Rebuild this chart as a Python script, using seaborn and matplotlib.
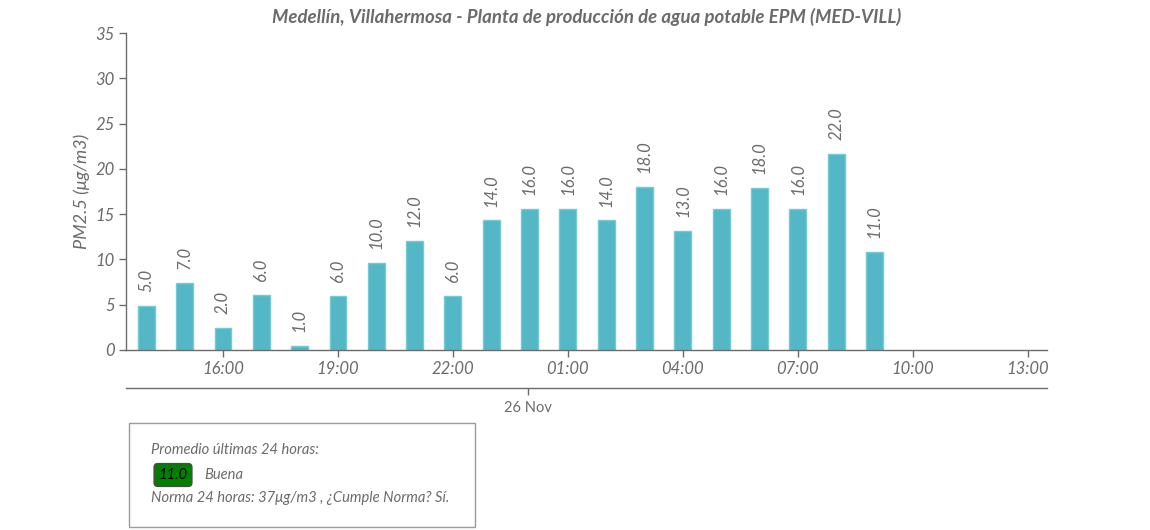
import pandas as pd
import matplotlib.pyplot as plt
import seaborn as sns
from matplotlib.patches import Rectangle

# datos (PM2.5 por hora, 25-26 Nov)
horas = ["14:00", "15:00", "16:00", "17:00", "18:00", "19:00", "20:00",
         "21:00", "22:00", "23:00", "00:00", "01:00", "02:00", "03:00",
         "04:00", "05:00", "06:00", "07:00", "08:00", "09:00"]
pm25 = [4.9, 7.4, 2.4, 6.1, 0.45, 6.0, 9.6, 12.0, 6.0, 14.3,
        15.6, 15.6, 14.3, 18.0, 13.1, 15.6, 17.9, 15.6, 21.6, 10.8]
etiquetas = [5.0, 7.0, 2.0, 6.0, 1.0, 6.0, 10.0, 12.0, 6.0, 14.0,
             16.0, 16.0, 14.0, 18.0, 13.0, 16.0, 18.0, 16.0, 22.0, 11.0]
ticks_horas = ["16:00", "19:00", "22:00", "01:00", "04:00", "07:00", "10:00", "13:00"]
promedio = 11.0

sns.set_style("ticks")
plt.rcParams['font.family'] = ['Lato', 'DejaVu Sans']

gris = "#6b6b6b"
color_barra = "#53b7c6"


def a_horas(h, inicio=14):
    # horas desde la medianoche del 25 Nov
    v = int(h.split(":")[0])
    return v + 24 if v < inicio else v


df = pd.DataFrame({"x": [a_horas(h) for h in horas], "pm25": pm25})

fig = plt.figure(figsize=(11.5, 5.3), dpi=100)
ax = fig.add_axes([126 / 1150, 180 / 530, 921 / 1150, 317 / 530])

sns.barplot(data=df, x="x", y="pm25", native_scale=True, width=0.44,
            color=color_barra, edgecolor="#74cbd6", linewidth=1, ax=ax,
            saturation=1, errorbar=None)

ax.bar_label(ax.containers[0], labels=[f"{v:.1f}" for v in etiquetas],
             rotation=90, padding=10, fontsize=12, style="italic", color=gris)

ax.set_xlim(13.47, 37.5)
ax.set_ylim(0, 35)
ax.set_yticks(range(0, 36, 5))
ax.set_xticks([a_horas(h, inicio=14) for h in ticks_horas])
ax.set_xticklabels(ticks_horas)
ax.set_xlabel("")
ax.set_ylabel("PM2.5 (μg/m3)", fontsize=13, style="italic", color=gris, labelpad=4)

for lbl in ax.get_xticklabels() + ax.get_yticklabels():
    lbl.set_style("italic")
    lbl.set_fontsize(12)
    lbl.set_color(gris)
ax.tick_params(axis="both", length=5, width=1, color=gris, pad=3)

sns.despine(ax=ax)
for s in ["left", "bottom"]:
    ax.spines[s].set_color(gris)
    ax.spines[s].set_linewidth(1)

# eje de fecha
sec = ax.secondary_xaxis(-38 / 317)
sec.set_xticks([23.95])
sec.set_xticklabels(["26 Nov"])
sec.tick_params(length=5, width=1, color=gris, pad=4, labelsize=10.5, labelcolor=gris)
sec.spines["bottom"].set_color(gris)
sec.spines["bottom"].set_linewidth(1)

fig.text(587 / 1150, 1 - 17 / 530,
         "Medellín, Villahermosa - Planta de producción de agua potable EPM (MED-VILL)",
         ha="center", va="center", fontsize=13.4, fontweight="bold",
         style="italic", color=gris)

# recuadro con el promedio
fig.add_artist(Rectangle((129 / 1150, 3 / 530), 346 / 1150, 104 / 530,
                         transform=fig.transFigure, fill=False,
                         edgecolor="#9a9a9a", linewidth=1))
fig.text(151 / 1150, 1 - 450 / 530, "Promedio últimas 24 horas:",
         ha="left", va="center", fontsize=10.6, style="italic", color=gris)
fig.text(173 / 1150, 1 - 475 / 530, f"{promedio:.1f}",
         ha="center", va="center", fontsize=10.6, style="italic", color="black",
         bbox=dict(boxstyle="round,pad=0.3,rounding_size=0.25",
                   fc="#008000", ec="#4a4a4a", lw=1))
fig.text(204 / 1150, 1 - 475 / 530, "Buena",
         ha="left", va="center", fontsize=10.6, style="italic", color=gris)
fig.text(151 / 1150, 1 - 498 / 530,
         "Norma 24 horas: 37μg/m3 , ¿Cumple Norma? Sí.",
         ha="left", va="center", fontsize=10.6, style="italic", color=gris)

fig.savefig("out.png", dpi=100)
